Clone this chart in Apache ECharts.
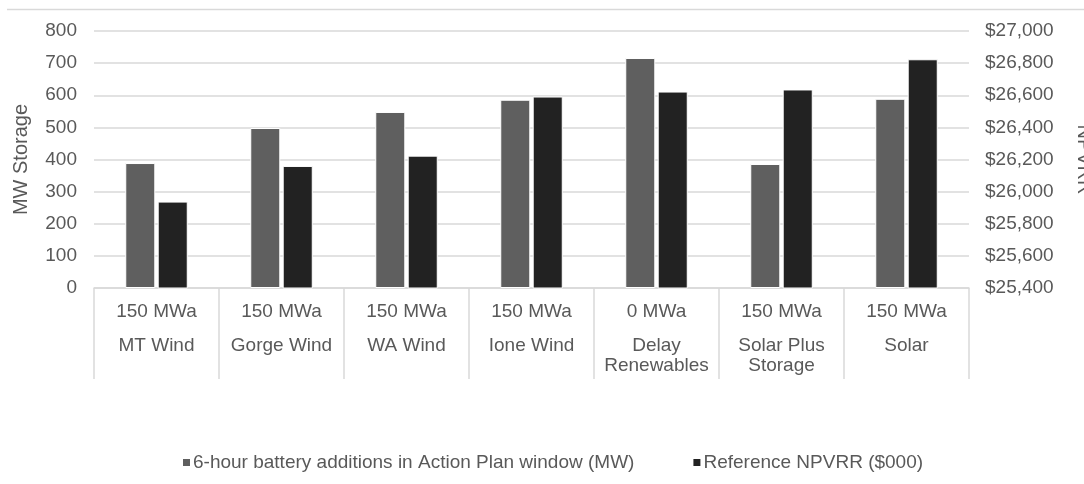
<!DOCTYPE html>
<html>
<head>
<meta charset="utf-8">
<script src="https://cdn.jsdelivr.net/npm/echarts@6/dist/echarts.min.js"></script>
<style>
html,body{margin:0;padding:0;background:#fff;}
#chart{width:1084px;height:484px;}
</style>
</head>
<body>
<div id="chart"></div>
<script>
const capacities = ['150 MWa','150 MWa','150 MWa','150 MWa','0 MWa','150 MWa','150 MWa'];
const portfolios = ['MT Wind','Gorge Wind','WA Wind','Ione Wind','Delay\nRenewables','Solar Plus\nStorage','Solar'];
const batteryMW = [389, 498, 548, 586, 716, 386, 589];
const npvrr = [25938, 26160, 26224, 26592, 26623, 26636, 26824];
const seriesNames = ['6-hour battery additions in Action Plan window (MW)', 'Reference NPVRR ($000)'];

const categories = portfolios.map((p, i) => capacities[i] + '|' + p);
const FONT = 'Liberation Sans';
const TXT = '#595959';
const GRID = '#d9d9d9';
const FS = 19;

const chart = echarts.init(document.getElementById('chart'), null, {renderer:'canvas'});
chart.setOption({
  animation: false,
  backgroundColor: '#fff',
  textStyle: {fontFamily: FONT, color: TXT},
  graphic: [{
    type: 'line', shape: {x1: 7, y1: 9.5, x2: 1084, y2: 9.5},
    style: {stroke: GRID, lineWidth: 1.5}
  }],
  grid: {left: 94, right: 115, top: 31, bottom: 196, containLabel: false, outerBoundsMode: 'none'},
  legend: {
    left: 176, top: 448, itemWidth: 9, itemHeight: 9, itemGap: 57,
    icon: 'rect',
    textStyle: {fontFamily: FONT, fontSize: FS, color: TXT, padding: [0,0,0,-3]},
    data: seriesNames
  },
  xAxis: {
    type: 'category', data: categories,
    axisLine: {show: true, lineStyle: {color: GRID, width: 1.5}},
    axisTick: {show: true, length: 91, interval: 0, lineStyle: {color: GRID, width: 1.5}},
    axisLabel: {
      interval: 0, margin: 0,
      formatter: function (v) {
        const parts = v.split('|');
        const lines = parts[1].split('\n').map(s => '{b|' + s + '}');
        return '{a|' + parts[0] + '}\n' + lines.join('\n');
      },
      rich: {
        a: {fontFamily: FONT, fontSize: FS, color: TXT, lineHeight: 48},
        b: {fontFamily: FONT, fontSize: FS, color: TXT, lineHeight: 20}
      }
    }
  },
  yAxis: [{
    type: 'value', min: 0, max: 800, interval: 100,
    name: 'MW Storage', nameLocation: 'middle', nameGap: 63, nameRotate: 90,
    nameTextStyle: {fontFamily: FONT, fontSize: 20, color: TXT},
    axisLine: {show: false}, axisTick: {show: false},
    axisLabel: {margin: 17, fontFamily: FONT, fontSize: FS, color: TXT},
    splitLine: {lineStyle: {color: GRID, width: 1.5}}
  }, {
    type: 'value', min: 25400, max: 27000, interval: 200,
    name: 'NPVRR', nameLocation: 'middle', nameGap: 105, nameRotate: -90,
    nameTextStyle: {fontFamily: FONT, fontSize: 20, color: TXT},
    axisLine: {show: false}, axisTick: {show: false},
    axisLabel: {margin: 16, fontFamily: FONT, fontSize: FS, color: TXT,
      formatter: v => '$' + v.toLocaleString('en-US')},
    splitLine: {show: false}
  }],
  series: [{
    name: seriesNames[0], type: 'bar', yAxisIndex: 0, data: batteryMW,
    barGap: '8%', barCategoryGap: '50%',
    itemStyle: {color: '#5f5f5f', borderColor: '#ffffff', borderWidth: 1}
  }, {
    name: seriesNames[1], type: 'bar', yAxisIndex: 1, data: npvrr,
    barGap: '8%', barCategoryGap: '50%',
    itemStyle: {color: '#222222', borderColor: '#ffffff', borderWidth: 1}
  }]
});
</script>
</body>
</html>
